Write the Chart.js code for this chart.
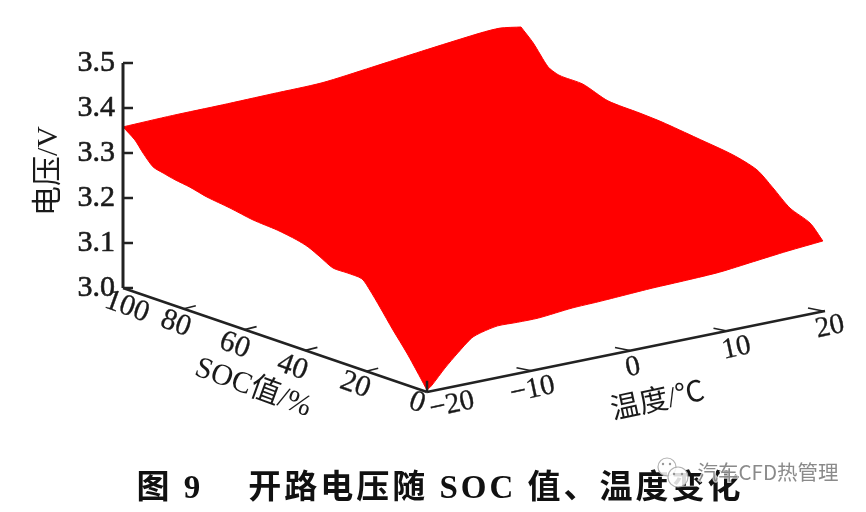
<!DOCTYPE html>
<html><head><meta charset="utf-8">
<style>html,body{margin:0;padding:0;background:#fff}canvas{display:block}</style>
<script src="https://cdn.jsdelivr.net/npm/chart.js@4/dist/chart.umd.min.js"></script>
</head><body><canvas id="c" width="866" height="512"></canvas>
<script>
const voltTicks=[3.0,3.1,3.2,3.3,3.4,3.5];
const socTicks=[0,20,40,60,80,100];
const tempTicks=[-20,-10,0,10,20];
const tempLabels=['−20','−10','0','10','20'];
// left edge of the surface: T = -20 °C
const socAtTminus20=[100,96.1,93.4,90.1,86.8,82.9,78,72.4,64.8,57.2,49.3,42.8,39.1,35.2,30.9,26.3,21.4,18.8,15.5,11.2,6.6,2.3,0];
const voltAtTminus20=[3.358,3.338,3.315,3.292,3.286,3.280,3.275,3.266,3.259,3.250,3.246,3.239,3.232,3.219,3.204,3.204,3.202,3.183,3.153,3.112,3.071,3.028,3.004];
// right edge of the surface: T = 20 °C
const socAtT20=[0.7,4.9,11.5,17.1,22.4,30.3,42.1,53.6,60.9,71.4,79.6,86.2,88.2,91.1,96,100];
const voltAtT20=[3.154,3.184,3.202,3.234,3.262,3.277,3.287,3.296,3.299,3.302,3.320,3.321,3.323,3.332,3.374,3.400];
// front edge: SOC = 0 %
const tempAtSoc0=[-20,-19.5,-18.2,-16.9,-15.5,-14.5,-12.9,-10.9,-8.8,-5.4,-2.8,-0.1,2.7,6.1,9.4,12.8,16.2];
const voltAtSoc0=[3.004,3.013,3.045,3.073,3.100,3.108,3.115,3.114,3.114,3.121,3.123,3.126,3.129,3.131,3.134,3.142,3.150];
// back edge: SOC = 100 %
const tempAtSoc100=[20,17.9,15.9,10,5,0,-5,-10,-15,-20];
const voltAtSoc100=[3.400,3.407,3.405,3.391,3.378,3.366,3.364,3.362,3.361,3.358];
const caption='图 9    开路电压随 SOC 值、温度变化';
const watermark='汽车CFD热管理';

function proj(t,soc,v){return {x:427+(t+20)*9.95-soc*3.04,y:392-(t+20)*2.025-soc*1.04-(v-3)*450};}

const outline=[];
socAtTminus20.forEach((s,i)=>outline.push(proj(-20,s,voltAtTminus20[i])));
tempAtSoc0.forEach((t,i)=>outline.push(proj(t,0,voltAtSoc0[i])));
outline.push(proj(20,socAtT20[0],voltAtT20[0])); // repeated corner keeps the tip sharp under curve smoothing
socAtT20.forEach((s,i)=>outline.push(proj(20,s,voltAtT20[i])));
tempAtSoc100.forEach((t,i)=>outline.push(proj(t,100,voltAtSoc100[i])));
outline.push(proj(-20,socAtTminus20[0],voltAtTminus20[0]));

const axisColor='#222';
function seg(pts,w){return {type:'scatter',data:pts,showLine:true,borderColor:axisColor,borderWidth:w,pointRadius:0,fill:false,order:1,clip:false,borderCapStyle:'butt'};}
const datasets=[{type:'scatter',data:outline,showLine:true,tension:0.25,borderColor:'#ff0000',backgroundColor:'#ff0000',borderWidth:1,pointRadius:0,fill:'shape',order:5,clip:false}];
datasets.push(seg([proj(-20,100,3.0),proj(-20,100,3.5)],3));
datasets.push(seg([proj(-20,100,3.0),proj(-20,0,3.0)],2.5));
datasets.push(seg([proj(-20,0,3.0),proj(20,0,3.0)],2.5));
voltTicks.forEach(v=>{const a=proj(-20,100,v);datasets.push(seg([a,{x:a.x+10,y:a.y}],2.5));});
socTicks.slice(1,5).forEach(s=>{const a=proj(-20,s,3);datasets.push(seg([a,{x:a.x+12,y:a.y-3}],1.6));});
const tickNudge={'-10':[5,-1],0:[4,-1],10:[3,0],20:[-2,0]};
tempTicks.slice(1).forEach(t=>{const a=proj(t,0,3),n=tickNudge[t],p={x:a.x+n[0],y:a.y+n[1]};datasets.push(seg([p,{x:p.x-15,y:p.y-3}],1.6));});
datasets.push(seg([proj(-20,0,3),proj(-20,0,3.025)],2.5));

const socOff={100:[4,19],80:[-8,15],60:[-10,16],40:[-13,17],20:[-11,14],0:[-10,11]};
const tempOff=[[25,13],[6,18],[7,16],[11,17],[5,16]];
const serif='"Liberation Serif","Noto Sans CJK SC",serif';
const textPlugin={id:'textPlugin',afterDatasetsDraw(chart){
  const c=chart.ctx,X=chart.scales.x,Y=chart.scales.y;
  const put=(s,x,y,font,rot,o={})=>{c.save();c.translate(X.getPixelForValue(x),Y.getPixelForValue(y));c.rotate((rot||0)*Math.PI/180);c.font=font;c.fillStyle=o.color||'#1a1a1a';c.textAlign=o.align||'center';c.textBaseline='middle';if(o.ls)c.letterSpacing=o.ls;
    if(o.halo){c.strokeStyle=o.halo;c.lineWidth=2.5;c.strokeText(s,0,0);}
    if(o.bold){c.strokeStyle=o.color||'#1a1a1a';c.lineWidth=o.bold;c.strokeText(s,0,0);}
    c.fillText(s,0,0);c.restore();};
  voltTicks.forEach(v=>{const a=proj(-20,100,v);put(v.toFixed(1),a.x-8,a.y,'30px '+serif,0,{align:'right',bold:0.6});});
  socTicks.forEach(s=>{const a=proj(-20,s,3),o=socOff[s];put(String(s),a.x+o[0],a.y+o[1],'30px '+serif,20,{bold:0.3});});
  tempTicks.forEach((t,i)=>{const a=proj(t,0,3),o=tempOff[i];put(tempLabels[i],a.x+o[0],a.y+o[1],'29px '+serif,-12,{bold:0.3});});
  put('电压/V',49,171,'30px '+serif,-90);
  put('SOC值/%',253,388,'30px '+serif,20);
  put('温度/℃',658,402,'29px '+serif,-12);
  put(caption,440,489,'bold 33px '+serif,0,{color:'#111',ls:'3px'});
  // watermark badge
  c.save();c.lineWidth=1.2;c.strokeStyle='rgba(170,170,170,0.9)';c.fillStyle='rgba(255,255,255,0.85)';
  [[667,467,9],[678,477,10]].forEach(p=>{c.beginPath();c.arc(X.getPixelForValue(p[0]),Y.getPixelForValue(p[1]),p[2],0,Math.PI*2);c.fill();c.stroke();});
  c.fillStyle='rgba(140,140,140,0.9)';
  [[663,464],[670,464],[674,474],[682,474]].forEach(p=>{c.beginPath();c.arc(X.getPixelForValue(p[0]),Y.getPixelForValue(p[1]),1.2,0,Math.PI*2);c.fill();});
  c.restore();
  put(watermark,768,472,'20.5px "Noto Sans CJK SC",sans-serif',0,{color:'rgba(125,125,125,0.9)',halo:'rgba(255,255,255,0.75)'});
}};
new Chart(document.getElementById('c'),{
  data:{datasets},
  options:{responsive:false,animation:false,events:[],
    layout:{padding:0},
    plugins:{legend:{display:false},tooltip:{enabled:false},title:{display:false}},
    scales:{x:{type:'linear',min:0,max:866,display:false},y:{type:'linear',min:0,max:512,reverse:true,display:false}}},
  plugins:[textPlugin]
});
</script></body></html>
